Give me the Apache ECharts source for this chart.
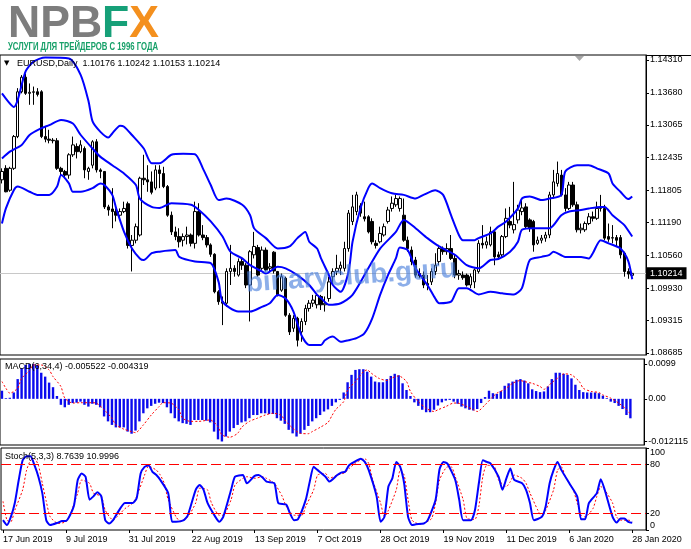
<!DOCTYPE html>
<html><head><meta charset="utf-8">
<script src="https://cdn.jsdelivr.net/npm/echarts@6/dist/echarts.min.js"></script>
<style>html,body{margin:0;padding:0;background:#fff}#c{width:691px;height:549px}</style>
</head><body><div id="c"></div>
<script>
const FONT = '"Liberation Sans", Arial, sans-serif';
const dates = [
'17 Jun 2019','18 Jun 2019','19 Jun 2019','20 Jun 2019','21 Jun 2019','24 Jun 2019','25 Jun 2019','26 Jun 2019','27 Jun 2019','28 Jun 2019',
'1 Jul 2019','2 Jul 2019','3 Jul 2019','4 Jul 2019','5 Jul 2019','8 Jul 2019','9 Jul 2019','10 Jul 2019','11 Jul 2019','12 Jul 2019',
'15 Jul 2019','16 Jul 2019','17 Jul 2019','18 Jul 2019','19 Jul 2019','22 Jul 2019','23 Jul 2019','24 Jul 2019','25 Jul 2019','26 Jul 2019',
'29 Jul 2019','30 Jul 2019','31 Jul 2019','1 Aug 2019','2 Aug 2019','5 Aug 2019','6 Aug 2019','7 Aug 2019','8 Aug 2019','9 Aug 2019',
'12 Aug 2019','13 Aug 2019','14 Aug 2019','15 Aug 2019','16 Aug 2019','19 Aug 2019','20 Aug 2019','21 Aug 2019','22 Aug 2019','23 Aug 2019',
'26 Aug 2019','27 Aug 2019','28 Aug 2019','29 Aug 2019','30 Aug 2019','2 Sep 2019','3 Sep 2019','4 Sep 2019','5 Sep 2019','6 Sep 2019',
'9 Sep 2019','10 Sep 2019','11 Sep 2019','12 Sep 2019','13 Sep 2019','16 Sep 2019','17 Sep 2019','18 Sep 2019','19 Sep 2019','20 Sep 2019',
'23 Sep 2019','24 Sep 2019','25 Sep 2019','26 Sep 2019','27 Sep 2019','30 Sep 2019','1 Oct 2019','2 Oct 2019','3 Oct 2019','4 Oct 2019',
'7 Oct 2019','8 Oct 2019','9 Oct 2019','10 Oct 2019','11 Oct 2019','14 Oct 2019','15 Oct 2019','16 Oct 2019','17 Oct 2019','18 Oct 2019',
'21 Oct 2019','22 Oct 2019','23 Oct 2019','24 Oct 2019','25 Oct 2019','27 Oct 2019','28 Oct 2019','29 Oct 2019','30 Oct 2019','31 Oct 2019',
'1 Nov 2019','4 Nov 2019','5 Nov 2019','6 Nov 2019','7 Nov 2019','8 Nov 2019','11 Nov 2019','12 Nov 2019','13 Nov 2019','14 Nov 2019',
'15 Nov 2019','18 Nov 2019','19 Nov 2019','20 Nov 2019','21 Nov 2019','22 Nov 2019','25 Nov 2019','26 Nov 2019','27 Nov 2019','28 Nov 2019',
'29 Nov 2019','2 Dec 2019','3 Dec 2019','4 Dec 2019','5 Dec 2019','6 Dec 2019','9 Dec 2019','10 Dec 2019','11 Dec 2019','12 Dec 2019',
'13 Dec 2019','16 Dec 2019','17 Dec 2019','18 Dec 2019','19 Dec 2019','20 Dec 2019','23 Dec 2019','24 Dec 2019','26 Dec 2019','27 Dec 2019',
'30 Dec 2019','31 Dec 2019','2 Jan 2020','3 Jan 2020','6 Jan 2020','7 Jan 2020','8 Jan 2020','9 Jan 2020','10 Jan 2020','13 Jan 2020',
'14 Jan 2020','15 Jan 2020','16 Jan 2020','17 Jan 2020','20 Jan 2020','21 Jan 2020','22 Jan 2020','23 Jan 2020','24 Jan 2020','27 Jan 2020',
'28 Jan 2020'];

const open = [
1.1201,1.1223,1.1181,1.1223,1.1284,1.1370,1.1398,1.1367,1.1369,1.1370,
1.1370,1.1284,1.1279,1.1277,1.1276,1.1223,1.1217,1.1210,1.1249,1.1265,
1.1255,1.1261,1.1217,1.1229,1.1274,1.1220,1.1217,1.1149,1.1145,1.1140,
1.1133,1.1140,1.1155,1.1075,1.1085,1.1095,1.1204,1.1201,1.1197,1.1185,
1.1220,1.1213,1.1188,1.1133,1.1101,1.1092,1.1085,1.1092,1.1095,1.1079,
1.1140,1.1095,1.1090,1.1076,1.1058,1.0986,1.0967,1.0964,1.1025,1.1031,
1.1018,1.1044,1.1037,1.0999,1.1057,1.1071,1.1031,1.1066,1.1031,1.1062,
1.1025,1.0989,1.1012,1.0941,1.0916,1.0935,1.0909,1.0929,1.0954,1.0964,
1.0961,1.0977,1.0961,1.0973,1.1015,1.1025,1.1031,1.1031,1.1069,1.1121,
1.1140,1.1151,1.1130,1.1130,1.1121,1.1079,1.1082,1.1095,1.1121,1.1146,
1.1153,1.1146,1.1133,1.1085,1.1066,1.1047,1.1021,1.1018,1.0999,1.1005,
1.1025,1.1044,1.1069,1.1063,1.1069,1.1050,1.1018,1.1018,1.1018,1.0999,
1.1005,1.1025,1.1079,1.1076,1.1076,1.1101,1.1057,1.1057,1.1092,1.1121,
1.1105,1.1124,1.1140,1.1149,1.1124,1.1121,1.1079,1.1085,1.1089,1.1095,
1.1172,1.1194,1.1210,1.1172,1.1146,1.1191,1.1153,1.1105,1.1105,1.1117,
1.1130,1.1127,1.1146,1.1146,1.1092,1.1089,1.1090,1.1090,1.1060,1.1025,
1.10176];
const close = [
1.1217,1.1178,1.1223,1.1284,1.1370,1.1398,1.1367,1.1369,1.1370,1.1365,
1.1284,1.1279,1.1277,1.1276,1.1223,1.1217,1.1210,1.1249,1.1268,1.1255,
1.1268,1.1220,1.1223,1.1274,1.1220,1.1217,1.1149,1.1143,1.1140,1.1133,
1.1140,1.1146,1.1075,1.1085,1.1111,1.1204,1.1201,1.1197,1.1177,1.1220,
1.1213,1.1188,1.1133,1.1101,1.1092,1.1082,1.1092,1.1095,1.1079,1.1140,
1.1095,1.1090,1.1076,1.1058,1.0986,1.0967,1.0964,1.1025,1.1031,1.1025,
1.1044,1.1037,1.0999,1.1063,1.1073,1.1018,1.1066,1.1028,1.1034,1.1026,
1.0980,1.1015,1.0941,1.0909,1.0935,1.0893,1.0929,1.0954,1.0964,1.0970,
1.0979,1.0961,1.0964,1.1005,1.1025,1.1031,1.1037,1.1069,1.1137,1.1149,
1.1172,1.1137,1.1126,1.1101,1.1082,1.1075,1.1098,1.1111,1.1143,1.1156,
1.1165,1.1165,1.1085,1.1069,1.1044,1.1018,1.1017,1.0999,1.1002,1.1025,
1.1037,1.1069,1.1063,1.1069,1.1050,1.1018,1.1021,1.1013,1.0999,1.1015,
1.1028,1.1079,1.1076,1.1082,1.1101,1.1053,1.1053,1.1092,1.1127,1.1114,
1.1115,1.1143,1.1147,1.1111,1.1108,1.1076,1.1085,1.1089,1.1095,1.1172,
1.1197,1.1213,1.1172,1.1146,1.1191,1.1153,1.1105,1.1108,1.1117,1.1130,
1.1127,1.1146,1.1149,1.1089,1.1087,1.1090,1.1085,1.1057,1.1025,1.1020,
1.10214];
const high = [
1.1223,1.1229,1.1226,1.1287,1.1377,1.1402,1.1405,1.1386,1.1380,1.1377,
1.1373,1.1303,1.1297,1.1281,1.1281,1.1226,1.1220,1.1252,1.1284,1.1271,
1.1277,1.1265,1.1226,1.1277,1.1279,1.1223,1.1217,1.1153,1.1185,1.1146,
1.1146,1.1159,1.1159,1.1095,1.1117,1.1207,1.1249,1.1229,1.1217,1.1229,
1.1229,1.1226,1.1191,1.1140,1.1111,1.1108,1.1098,1.1111,1.1098,1.1159,
1.1156,1.1114,1.1095,1.1079,1.1060,1.0989,1.0977,1.1031,1.1076,1.1037,
1.1050,1.1050,1.1041,1.1066,1.1101,1.1076,1.1073,1.1071,1.1041,1.1064,
1.1026,1.1021,1.1015,1.0945,1.0941,1.0938,1.0935,1.0961,1.0970,1.0980,
1.0983,1.0980,1.0977,1.1015,1.1031,1.1057,1.1044,1.1082,1.1143,1.1172,
1.1178,1.1156,1.1159,1.1133,1.1127,1.1085,1.1111,1.1117,1.1149,1.1169,
1.1172,1.1169,1.1165,1.1092,1.1073,1.1053,1.1031,1.1025,1.1018,1.1031,
1.1060,1.1076,1.1073,1.1079,1.1095,1.1057,1.1028,1.1025,1.1021,1.1021,
1.1031,1.1085,1.1114,1.1092,1.1111,1.1105,1.1063,1.1095,1.1146,1.1149,
1.1197,1.1153,1.1162,1.1156,1.1127,1.1124,1.1092,1.1095,1.1101,1.1178,
1.1220,1.1236,1.1220,1.1185,1.1197,1.1197,1.1159,1.1117,1.1121,1.1137,
1.1140,1.1159,1.1172,1.1153,1.1117,1.1114,1.1095,1.1095,1.1063,1.1031,
1.10242];
const low = [
1.1194,1.1177,1.1178,1.1220,1.1281,1.1367,1.1364,1.1345,1.1345,1.1361,
1.1281,1.1273,1.1271,1.1271,1.1220,1.1209,1.1203,1.1203,1.1245,1.1242,
1.1252,1.1204,1.1201,1.1223,1.1215,1.1204,1.1145,1.1132,1.1108,1.1121,
1.1124,1.1137,1.1069,1.1025,1.1079,1.1092,1.1191,1.1178,1.1173,1.1181,
1.1185,1.1185,1.1130,1.1095,1.1085,1.1071,1.1073,1.1077,1.1073,1.1069,
1.1092,1.1085,1.1071,1.1053,1.0983,1.0961,1.0922,1.0957,1.0999,1.1015,
1.1015,1.1028,1.0993,1.0929,1.1050,1.1015,1.1028,1.1025,1.1026,1.1021,
1.0977,1.0986,1.0938,1.0903,1.0909,1.0881,1.0890,1.0922,1.0948,1.0957,
1.0954,1.0951,1.0948,1.0967,1.0999,1.1018,1.1018,1.1025,1.1063,1.1114,
1.1133,1.1130,1.1121,1.1098,1.1077,1.1069,1.1079,1.1092,1.1117,1.1140,
1.1149,1.1140,1.1082,1.1063,1.1037,1.1013,1.1012,1.0993,1.0989,1.0999,
1.1018,1.1037,1.1057,1.1057,1.1047,1.1012,1.1009,1.1009,1.0996,1.0993,
1.0993,1.1021,1.1069,1.1069,1.1073,1.1037,1.1049,1.1053,1.1089,1.1108,
1.1098,1.1117,1.1133,1.1108,1.1101,1.1063,1.1076,1.1079,1.1082,1.1089,
1.1165,1.1188,1.1169,1.1140,1.1143,1.1149,1.1100,1.1098,1.1101,1.1114,
1.1121,1.1124,1.1140,1.1085,1.1082,1.1079,1.1073,1.1050,1.1015,1.1011,
1.10153];

// Bollinger bands, [bar index, value]
const bbUpper = [[0,1.1367],[3,1.1341],[6,1.1409],[8,1.1428],[11,1.1436],[17,1.1434],[20,1.1402],[22,1.1351],[23,1.1313],[25,1.1293],[27,1.1282],[28,1.1290],[30,1.1305],[31,1.1303],[33,1.1287],[36,1.1261],[38,1.1233],[40,1.1233],
[43,1.1249],[46,1.1251],[49,1.1250],[51,1.1223],[53,1.1191],[55,1.1162],[57,1.1165],[61,1.1153],[63,1.1133],[64,1.1108],[67,1.1089],[70,1.1069],[73,1.1073],[75,1.1089],[77,1.1101],[78,1.1082],[80,1.1069],
[81,1.1050],[83,1.1018],[84,1.0999],[86,1.0986],[88,1.1025],[89,1.1082],[91,1.1146],[93,1.1185],[94,1.1194],[96,1.1185],[99,1.1175],[102,1.1172],[105,1.1165],[107,1.1172],[110,1.1181],[112,1.1172],[114,1.1133],[116,1.1095],[117,1.1085],[120,1.1085],[121,1.1089],
[124,1.1098],[126,1.1111],[128,1.1121],[131,1.1146],[132,1.1165],[134,1.1169],[137,1.1162],[139,1.1165],[142,1.1172],[143,1.1217],[146,1.1229],[149,1.1229],[151,1.1223],[154,1.1213],[155,1.1194],[157,1.1178],[159,1.1164],[160,1.1169]];
const bbMiddle = [[0,1.1242],[2,1.1255],[5,1.1268],[7,1.1287],[10,1.1300],[12,1.1306],[15,1.1316],[18,1.1309],[20,1.1287],[23,1.1261],[25,1.1245],[28,1.1229],[31,1.1213],[34,1.1191],[35,1.1165],[38,1.1149],[40,1.1147],
[43,1.1156],[48,1.1153],[50,1.1143],[53,1.1121],[56,1.1092],[58,1.1063],[61,1.1050],[63,1.1037],[66,1.1025],[67,1.1021],[70,1.1034],[72,1.1031],[75,1.1018],[78,1.0999],[80,1.0980],
[81,1.0974],[83,1.0961],[86,1.0964],[89,1.0980],[93,1.1031],[96,1.1069],[100,1.1101],[102,1.1124],[105,1.1108],[108,1.1089],[111,1.1073],[115,1.1057],[118,1.1037],[121,1.1031],
[124,1.1047],[126,1.1049],[129,1.1063],[131,1.1082],[132,1.1105],[135,1.1108],[139,1.1108],[142,1.1133],[144,1.1140],[147,1.1143],[149,1.1146],[152,1.1149],[153,1.1149],[155,1.1133],[158,1.1114],[160,1.1092]];
const bbLower = [[0,1.1117],[1,1.1146],[3,1.1181],[4,1.1188],[7,1.1178],[9,1.1172],[12,1.1172],[14,1.1188],[15,1.1210],[17,1.1194],[18,1.1178],[20,1.1178],[23,1.1185],[25,1.1194],[26,1.1191],[28,1.1172],[29,1.1146],[31,1.1101],[33,1.1069],[35,1.1050],[36,1.1047],[38,1.1060],[40,1.1063],
[44,1.1066],[45,1.1053],[49,1.1044],[53,1.1041],[55,1.1005],[56,1.0967],[60,1.0948],[63,1.0948],[66,1.0957],[68,1.0964],[70,1.0980],[72,1.0973],[74,1.0948],[76,1.0903],[78,1.0884],[80,1.0884],
[81,1.0884],[82,1.0893],[84,1.0900],[86,1.0890],[88,1.0893],[90,1.0897],[92,1.0906],[94,1.0935],[96,1.0980],[98,1.1018],[100,1.1050],[101,1.1071],[103,1.1066],[105,1.1031],[108,1.0999],[110,1.0973],[111,1.0964],[114,1.0967],[116,1.0993],[118,1.0993],[121,1.0981],
[124,1.0986],[127,1.0983],[130,1.0981],[132,1.0993],[134,1.1047],[137,1.1053],[139,1.1057],[140,1.1063],[143,1.1053],[147,1.1053],[149,1.1050],[150,1.1060],[152,1.1085],[154,1.1079],[157,1.1069],[159,1.1045],[160,1.1010]];

// MACD histogram (one per bar) and signal line [bar index, value]
const macdHist = [
0.0023,0.0002,0.0003,0.0018,0.0056,0.0087,0.0096,0.0099,0.0099,0.0096,
0.0074,0.0063,0.0046,0.0033,0.0008,-0.0017,-0.0024,-0.0017,-0.0012,-0.0011,
-0.0008,-0.0017,-0.0022,-0.0014,-0.0017,-0.0024,-0.0050,-0.0064,-0.0074,-0.0081,
-0.0081,-0.0081,-0.0093,-0.0099,-0.0090,-0.0064,-0.0041,-0.0027,-0.0020,-0.0014,
-0.0011,-0.0012,-0.0024,-0.0041,-0.0055,-0.0064,-0.0069,-0.0071,-0.0074,-0.0060,
-0.0060,-0.0060,-0.0062,-0.0067,-0.0093,-0.0115,-0.0121,-0.0107,-0.0093,-0.0083,
-0.0074,-0.0067,-0.0064,-0.0055,-0.0046,-0.0046,-0.0041,-0.0041,-0.0043,-0.0043,
-0.0055,-0.0062,-0.0071,-0.0088,-0.0098,-0.0107,-0.0099,-0.0088,-0.0077,-0.0064,
-0.0055,-0.0046,-0.0036,-0.0030,-0.0020,-0.0010,-0.0003,0.0018,0.0047,0.0068,
0.0082,0.0084,0.0084,0.0077,0.0063,0.0049,0.0047,0.0047,0.0056,0.0065,
0.0071,0.0067,0.0044,0.0025,0.0008,-0.0010,-0.0020,-0.0031,-0.0038,-0.0038,
-0.0031,-0.0019,-0.0010,-0.0005,-0.0003,-0.0008,-0.0014,-0.0022,-0.0027,-0.0031,
-0.0033,-0.0029,-0.0012,0.0005,0.0023,0.0016,0.0014,0.0022,0.0037,0.0044,
0.0049,0.0054,0.0056,0.0052,0.0044,0.0027,0.0022,0.0019,0.0021,0.0035,
0.0056,0.0074,0.0074,0.0071,0.0068,0.0058,0.0040,0.0025,0.0019,0.0018,
0.0018,0.0018,0.0016,0.0009,0.0002,-0.0008,-0.0012,-0.0020,-0.0029,-0.0046,
-0.005522];
const macdSignal = [[0,0.0049],[1,0.0030],[2,0.0016],[4,0.0030],[5,0.0058],[7,0.0080],[8,0.0096],[10,0.0096],[12,0.0082],[13,0.0063],[15,0.0035],[16,0.0002],[18,-0.0012],[20,-0.0011],[23,-0.0011],[24,-0.0012],[26,-0.0031],[28,-0.0055],[29,-0.0074],[31,-0.0086],[33,-0.0093],[34,-0.0096],[36,-0.0074],[38,-0.0046],[40,-0.0022],[41,-0.0011],[43,-0.0012],[45,-0.0031],[46,-0.0055],[48,-0.0064],[50,-0.0064],[53,-0.0060],[55,-0.0079],[56,-0.0102],[58,-0.0109],[60,-0.0098],[61,-0.0081],[63,-0.0064],[65,-0.0055],[67,-0.0046],[69,-0.0041],[71,-0.0046],[72,-0.0060],[74,-0.0083],[76,-0.0098],[78,-0.0099],[79,-0.0093],[81,-0.0081],[83,-0.0067],
[84,-0.0048],[85,-0.0030],[87,-0.0008],[88,0.0025],[90,0.0049],[92,0.0077],[93,0.0082],[94,0.0073],[96,0.0058],[98,0.0052],[99,0.0058],[101,0.0065],[103,0.0049],[104,0.0021],[106,-0.0008],[108,-0.0027],[110,-0.0036],[111,-0.0031],[113,-0.0022],[115,-0.0012],[116,-0.0012],[118,-0.0020],[120,-0.0031],[121,-0.0036],[123,-0.0017],[125,0.0006],[126,0.0016],[128,0.0027],[130,0.0044],[132,0.0052],[133,0.0049],[135,0.0044],[137,0.0035],[138,0.0027],[140,0.0046],[142,0.0063],[143,0.0071],[145,0.0068],[147,0.0049],[148,0.0030],[150,0.0021],[152,0.0018],[153,0.0011],[155,0.0002],[157,-0.0012],[159,-0.0030],[160,-0.004319]];

// Stochastic main and signal [bar index, value]
const stochMain = [[0,12],[1,6],[2,16],[3,33],[4,61],[5,85],[6,90],[7,90],[8,79],[9,65],[10,45],[11,12],[12,6],[14,9],[15,11],[16,11],[18,29],[19,61],[20,69],[21,65],[22,37],[23,41],[24,46],[25,41],[26,12],[27,8],[28,12],[29,20],[31,33],[33,33],[34,39],[35,69],[36,77],[37,79],[38,71],[39,67],[40,61],[42,45],[43,10],[44,10],[46,12],[47,18],[49,49],[50,55],[51,49],[52,33],[54,16],[55,10],[56,16],[58,49],[59,65],[61,67],[62,57],[64,66],[65,67],[66,64],[67,59],[69,57],[70,33],[72,31],[73,20],[74,12],[75,13],[77,37],[78,59],[79,77],[80,73],[82,65],[83,59],[85,67],[86,70],[87,71],[88,79],[90,85],[91,87],[92,83],[93,73],[95,41],[96,10],[97,16],[98,53],[99,63],[100,83],[101,77],[102,57],[103,16],[104,6],[105,7],[107,8],[108,12],[110,37],[111,74],[112,83],[113,81],[115,61],[116,37],[117,12],[119,12],[120,24],[121,57],[122,85],[123,83],[124,81],[126,65],[127,49],[128,63],[129,75],[130,61],[132,57],[133,49],[134,33],[135,12],[137,16],[138,29],[139,57],[140,73],[141,83],[142,73],[144,57],[146,41],[147,13],[148,13],[149,33],[151,45],[152,62],[153,49],[155,16],[156,9],[157,14],[158,14],[159,10],[160,8.7639]];
const stochSignal = [[0,35],[1,12],[2,10],[3,24],[5,49],[6,73],[7,85],[8,87],[9,79],[10,57],[11,35],[12,16],[14,8],[16,10],[17,18],[19,45],[20,61],[22,57],[23,45],[25,41],[26,24],[28,12],[29,16],[31,26],[33,33],[34,41],[36,67],[37,78],[39,73],[40,67],[41,57],[42,37],[44,16],[45,11],[47,16],[49,33],[50,51],[52,49],[53,33],[55,18],[56,18],[58,37],[59,55],[61,63],[62,65],[64,63],[66,65],[67,63],[69,57],[71,41],[72,29],[74,18],[76,18],[77,29],[79,49],[80,67],[82,69],[83,63],[85,67],[87,70],[88,75],[90,83],[92,87],[93,81],[94,61],[96,33],[97,16],[98,24],[100,49],[101,73],[102,67],[103,37],[104,12],[106,7],[107,8],[109,14],[110,33],[111,61],[113,77],[114,77],[115,65],[117,37],[118,14],[120,13],[121,29],[122,65],[123,79],[125,77],[126,61],[128,53],[129,59],[130,67],[132,63],[133,57],[134,45],[136,24],[137,16],[138,24],[140,49],[141,73],[142,77],[143,65],[145,49],[146,33],[147,18],[148,16],[150,26],[151,41],[152,53],[153,49],[155,33],[156,16],[157,12],[159,12],[160,10.9996]];
const stochLevels = [80, 20];

// Axis tick labels
const priceTicks = [1.08685,1.09315,1.09930,1.10560,1.11190,1.11805,1.12435,1.13065,1.13680,1.14310];
const macdTicks = [-0.012115, 0, 0.0099];
const macdTickText = ['-0.012115', '0.00', '0.0099'];
const stochTicks = [0, 20, 80, 100];
const lastPrice = 1.10214;

const headerMain = 'EURUSD,Daily  1.10176 1.10242 1.10153 1.10214';
const headerMacd = 'MACD(6,34,4) -0.005522 -0.004319';
const headerStoch = 'Stoch(5,3,3) 8.7639 10.9996';
const logoSub = 'УСЛУГИ ДЛЯ ТРЕЙДЕРОВ С 1996 ГОДА';
const watermark = 'binaryclub.guru';

const candles = open.map((o, i) => [o, close[i], low[i], high[i]]);

function measure(text, font) {
  const ctx = document.createElement('canvas').getContext('2d');
  ctx.font = font; return ctx.measureText(text).width;
}
const logoFont = 'bold 44px "Liberation Sans", Arial, sans-serif';
const logoScale = 151 / measure('NPBFX', logoFont);
const subFont = 'bold 11px "Liberation Sans Narrow", "Liberation Sans", Arial, sans-serif';
const subScale = 150 / measure(logoSub, subFont);

const tickEvery16 = (i) => i % 16 === 0;
const chart = echarts.init(document.getElementById('c'), null, {renderer: 'canvas'});

const xAx = (g) => ({
  type: 'category', gridIndex: g, data: dates, max: 163, boundaryGap: true,
  axisLine: {show: false},
  axisTick: {show: g === 2, alignWithLabel: true, interval: tickEvery16, length: 3, lineStyle: {color: '#000'}},
  axisLabel: {show: g === 2, interval: tickEvery16, align: 'left', color: '#000', fontSize: 9, fontFamily: FONT, margin: 5},
  splitLine: {show: false}
});
const yBase = {
  type: 'value', position: 'right',
  axisLine: {show: true, lineStyle: {color: '#000'}},
  splitLine: {show: false}
};

chart.setOption({
  animation: false,
  backgroundColor: '#fff',
  grid: [
    {left: 0, top: 55, width: 646, height: 300, show: true, borderColor: '#000', borderWidth: 1, backgroundColor: '#fff'},
    {left: 0, top: 359, width: 646, height: 86, show: true, borderColor: '#000', borderWidth: 1, backgroundColor: '#fff'},
    {left: 0, top: 448, width: 646, height: 82, show: true, borderColor: '#000', borderWidth: 1, backgroundColor: '#fff'}
  ],
  xAxis: [xAx(0), xAx(1), xAx(2)],
  yAxis: [
    Object.assign({}, yBase, {gridIndex: 0, min: 1.08646, max: 1.14406,
      axisTick: {show: true, length: 3, customValues: priceTicks, lineStyle: {color: '#000'}},
      axisLabel: {customValues: priceTicks, formatter: (v) => v.toFixed(5), color: '#000', fontSize: 9, fontFamily: FONT, margin: 4}}),
    Object.assign({}, yBase, {gridIndex: 1, min: -0.0131, max: 0.0113,
      axisTick: {show: true, length: 3, customValues: macdTicks, lineStyle: {color: '#000'}},
      axisLabel: {customValues: macdTicks, color: '#000', fontSize: 9, fontFamily: FONT, margin: 4,
        formatter: (v) => { const k = macdTicks.findIndex(t => Math.abs(t - v) < 1e-7); return k >= 0 ? macdTickText[k] : ''; }}}),
    Object.assign({}, yBase, {gridIndex: 2, min: 0, max: 100,
      axisTick: {show: true, length: 3, customValues: stochTicks, lineStyle: {color: '#000'}},
      axisLabel: {customValues: stochTicks, color: '#000', fontSize: 9, fontFamily: FONT, margin: 4,
        verticalAlignMaxLabel: 'top', verticalAlignMinLabel: 'bottom'}})
  ],
  series: [
    {type: 'candlestick', xAxisIndex: 0, yAxisIndex: 0, data: candles, barWidth: 3, z: 2,
      itemStyle: {color: '#ffffff', color0: '#000000', borderColor: '#000000', borderColor0: '#000000', borderWidth: 1}},
    {type: 'line', name: 'bbUpper', xAxisIndex: 0, yAxisIndex: 0, data: bbUpper, showSymbol: false, smooth: 0.25, z: 3,
      lineStyle: {color: '#0000ff', width: 2}},
    {type: 'line', name: 'bbMiddle', xAxisIndex: 0, yAxisIndex: 0, data: bbMiddle, showSymbol: false, smooth: 0.25, z: 3,
      lineStyle: {color: '#0000ff', width: 2},
      markLine: {silent: true, symbol: 'none', animation: false, precision: 5, z: 1,
        lineStyle: {color: '#c8c8c8', width: 1, type: 'solid'},
        label: {show: true, position: 'end', distance: 1, formatter: lastPrice.toFixed(5), color: '#fff', backgroundColor: '#000',
          padding: [2, 4, 1, 3], fontSize: 9, fontFamily: FONT},
        data: [{yAxis: lastPrice}]}},
    {type: 'line', name: 'bbLower', xAxisIndex: 0, yAxisIndex: 0, data: bbLower, showSymbol: false, smooth: 0.25, z: 3,
      lineStyle: {color: '#0000ff', width: 2}},
    {type: 'bar', xAxisIndex: 1, yAxisIndex: 1, data: macdHist, barWidth: 2.4, z: 2,
      itemStyle: {color: '#0a0aee'}},
    {type: 'line', xAxisIndex: 1, yAxisIndex: 1, data: macdSignal, showSymbol: false, smooth: 0.25, z: 3,
      lineStyle: {color: '#ff0000', width: 1, type: [2, 2]}},
    {type: 'line', xAxisIndex: 2, yAxisIndex: 2, data: stochSignal, showSymbol: false, smooth: 0.2, z: 3,
      lineStyle: {color: '#ff0000', width: 1, type: [2, 2]}},
    {type: 'line', xAxisIndex: 2, yAxisIndex: 2, data: stochMain, showSymbol: false, smooth: 0.2, z: 4,
      lineStyle: {color: '#0000ff', width: 2},
      markLine: {silent: true, symbol: 'none', animation: false, label: {show: false},
        lineStyle: {color: '#ff0000', width: 1.2, type: [10, 4]},
        data: stochLevels.map(v => ({yAxis: v}))}}
  ],
  graphic: [
    {type: 'text', x: 8, y: 25, scaleX: logoScale, z: 10,
      style: {text: '{g|NPB}{f|F}{x|X}', verticalAlign: 'middle', align: 'left',
        rich: {
          g: {fill: '#7d7d7d', fontSize: 44, fontWeight: 'bold', fontFamily: FONT},
          f: {fill: '#16a078', fontSize: 44, fontWeight: 'bold', fontFamily: FONT},
          x: {fill: '#f4901e', fontSize: 44, fontWeight: 'bold', fontFamily: FONT}
        }}},
    {type: 'text', x: 8, y: 47, scaleX: subScale, z: 10,
      style: {text: logoSub, font: subFont, fill: '#17a069', verticalAlign: 'middle', align: 'left'}},
    {type: 'line', z: 10, shape: {x1: 646, y1: 55.5, x2: 691, y2: 55.5}, style: {stroke: '#000', lineWidth: 1}},
    {type: 'polygon', z: 10, shape: {points: [[575, 56], [584, 56], [579.5, 61]]}, style: {fill: '#a8a8a8'}},
    {type: 'text', x: 4, y: 63.5, z: 10,
      style: {text: '▼', font: '7px "DejaVu Sans", sans-serif', fill: '#000', verticalAlign: 'middle'}},
    {type: 'text', x: 17, y: 63.5, z: 10,
      style: {text: headerMain, font: '9px ' + FONT, fill: '#000', verticalAlign: 'middle'}},
    {type: 'text', x: 5, y: 367, z: 10,
      style: {text: headerMacd, font: '9px ' + FONT, fill: '#000', verticalAlign: 'middle'}},
    {type: 'text', x: 5, y: 457, z: 10,
      style: {text: headerStoch, font: '9px ' + FONT, fill: '#000', verticalAlign: 'middle'}},
    {type: 'text', x: 246, y: 284, rotation: 0.07, z: 9,
      style: {text: watermark, font: 'bold 28px ' + FONT, fill: 'rgba(70,125,220,0.62)', verticalAlign: 'middle', align: 'left'}}
  ]
});
</script>
</body></html>
